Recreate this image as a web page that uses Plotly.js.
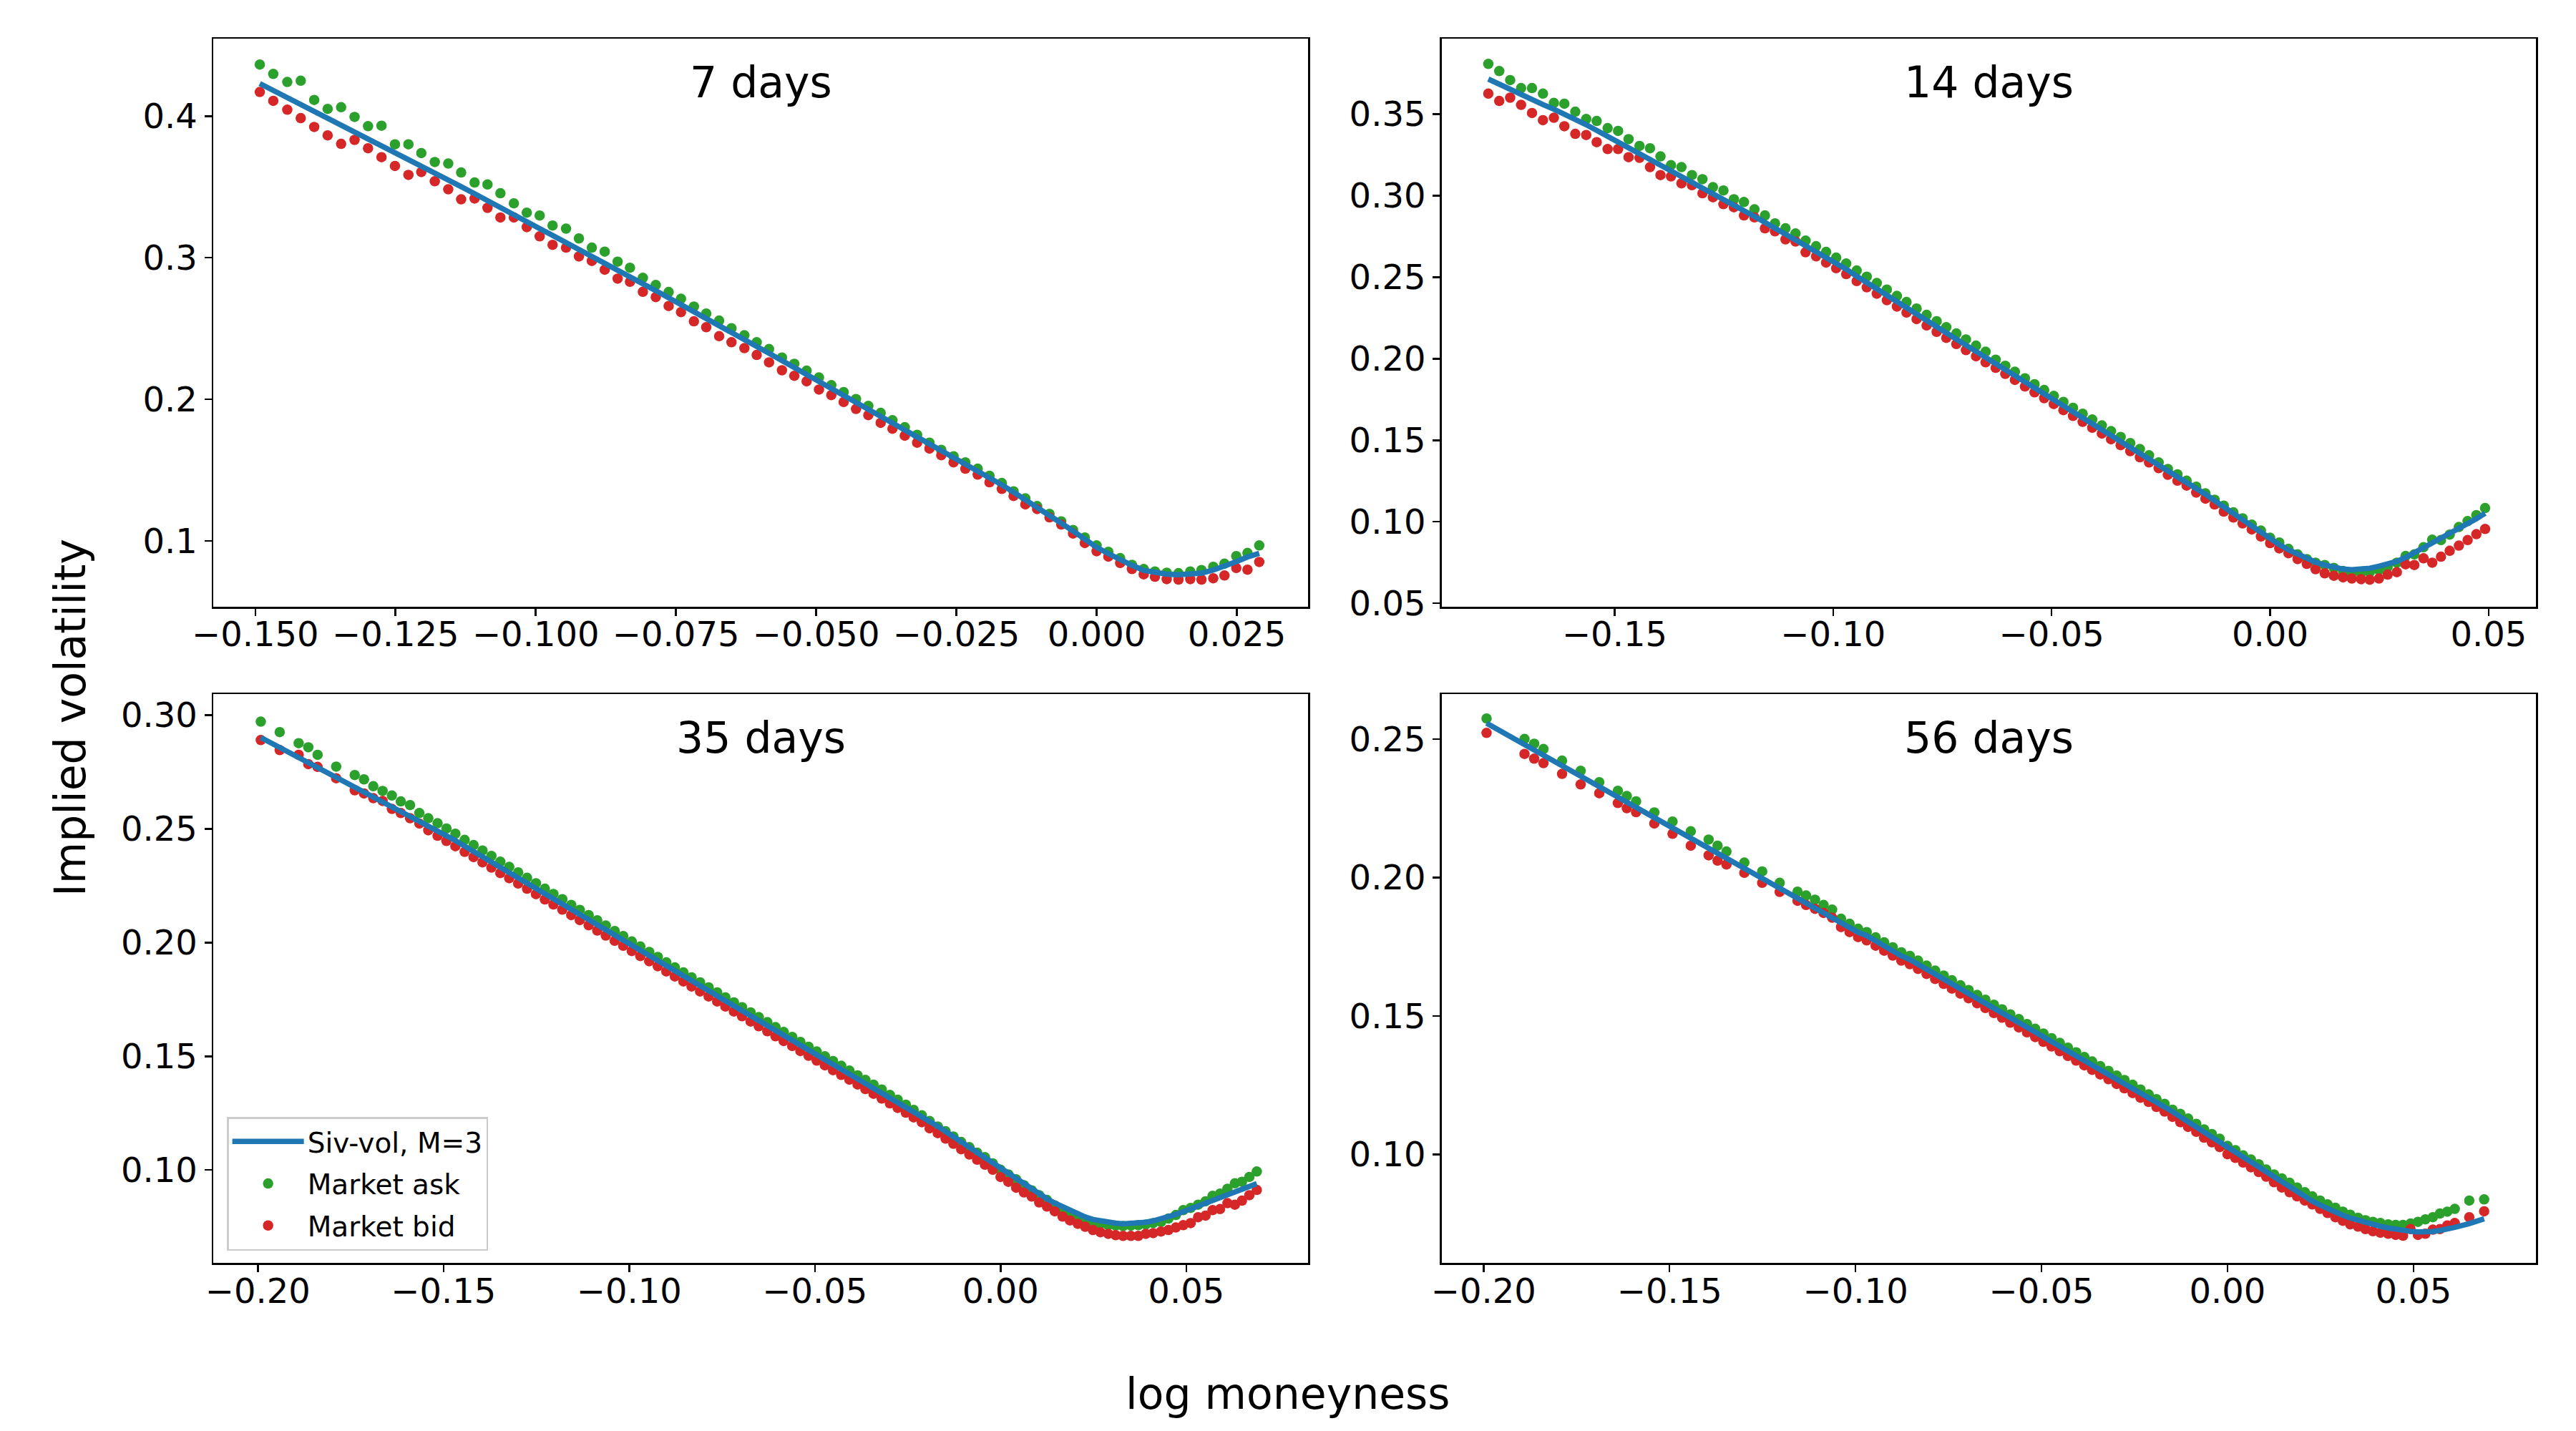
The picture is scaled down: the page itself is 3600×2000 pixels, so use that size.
<!DOCTYPE html>
<html>
<head>
<meta charset="utf-8">
<script src="https://cdn.plot.ly/plotly-3.0.1.min.js"></script>
<style>
  html, body { margin: 0; padding: 0; background: #fff; }
  #chart { width: 3600px; height: 2000px; }
</style>
</head>
<body>
<div id="chart"></div>
<script>
// ---- 7 days ----
const k7 = [-0.1492,-0.1468,-0.1443,-0.1419,-0.1395,-0.1371,-0.1347,-0.1323,-0.1299,-0.1275,-0.1251,-0.1227,-0.1204,-0.1180,-0.1156,-0.1133,-0.1109,-0.1086,-0.1063,-0.1039,-0.1016,-0.0993,-0.0970,-0.0946,-0.0923,-0.0900,-0.0877,-0.0854,-0.0832,-0.0809,-0.0786,-0.0763,-0.0741,-0.0718,-0.0696,-0.0673,-0.0651,-0.0628,-0.0606,-0.0584,-0.0561,-0.0539,-0.0517,-0.0495,-0.0473,-0.0451,-0.0429,-0.0407,-0.0385,-0.0364,-0.0342,-0.0320,-0.0298,-0.0277,-0.0255,-0.0234,-0.0212,-0.0191,-0.0169,-0.0148,-0.0127,-0.0106,-0.0084,-0.0063,-0.0042,-0.0021,0,0.0021,0.0042,0.0063,0.0084,0.0104,0.0125,0.0146,0.0167,0.0187,0.0208,0.0228,0.0249,0.0269,0.0290];
const ask7 = [0.4364,0.4298,0.4241,0.4250,0.4114,0.4051,0.4063,0.3994,0.3929,0.3932,
  0.3801,0.3801,0.3739,0.3676,0.3665,0.3602,0.3531,0.3517,0.3455,0.3384,
  0.3318,0.3298,0.3227,0.3205,0.3136,0.3071,0.3043,0.2972,0.2929,0.2858,
  0.2807,0.2758,0.2710,0.2655,0.2606,0.2556,0.2502,0.2452,0.2403,0.2355,
  0.2295,0.2251,0.2202,0.2154,0.2100,0.2051,0.2002,0.1953,0.1904,0.1852,
  0.1803,0.1749,0.1694,0.1643,0.1598,0.1555,0.1510,0.1460,0.1409,0.1350,
  0.1300,0.1246,0.1191,0.1138,0.1077,0.1024,0.0968,0.0923,0.0878,0.0831,
  0.0801,0.0784,0.0775,0.0772,0.0784,0.0794,0.0817,0.0839,0.0893,0.0915,
  0.0968];
const bid7 = [0.4170,0.4108,0.4045,0.3986,0.3923,0.3864,0.3804,0.3832,0.3773,0.3710,
  0.3648,0.3585,0.3605,0.3540,0.3483,0.3412,0.3418,0.3352,0.3284,0.3284,
  0.3216,0.3151,0.3091,0.3071,0.3009,0.2977,0.2915,0.2852,0.2830,0.2759,
  0.2722,0.2659,0.2616,0.2551,0.2509,0.2446,0.2403,0.2361,0.2313,0.2261,
  0.2205,0.2166,0.2127,0.2069,0.2030,0.1981,0.1932,0.1888,0.1834,0.1792,
  0.1743,0.1694,0.1652,0.1605,0.1555,0.1510,0.1468,0.1414,0.1367,0.1317,
  0.1258,0.1225,0.1166,0.1116,0.1052,0.0985,0.0927,0.0889,0.0844,0.0801,
  0.0764,0.0747,0.0730,0.0727,0.0730,0.0727,0.0736,0.0756,0.0809,0.0797,
  0.0851];
const fit7 = [0.4230,0.4182,0.4132,0.4084,0.4036,0.3988,0.3940,0.3892,0.3844,0.3796,
  0.3747,0.3697,0.3649,0.3599,0.3549,0.3502,0.3452,0.3404,0.3356,0.3306,
  0.3258,0.3210,0.3161,0.3110,0.3061,0.3011,0.2962,0.2913,0.2866,0.2816,
  0.2767,0.2718,0.2670,0.2620,0.2571,0.2521,0.2472,0.2422,0.2373,0.2325,
  0.2274,0.2226,0.2177,0.2129,0.2080,0.2031,0.1982,0.1933,0.1884,0.1837,
  0.1788,0.1739,0.1690,0.1643,0.1594,0.1547,0.1497,0.1450,0.1396,0.1344,
  0.1292,0.1238,0.1180,0.1125,0.1070,0.1013,0.0955,0.0910,0.0867,0.0828,
  0.0792,0.0776,0.0765,0.0761,0.0764,0.0772,0.0794,0.0820,0.0853,0.0886,
  0.0912];

// ---- 14 days ----
const k14 = [-0.1789,-0.1764,-0.1739,-0.1714,-0.1689,-0.1664,-0.1639,-0.1615,-0.1590,-0.1565,-0.1541,-0.1516,-0.1492,-0.1468,-0.1443,-0.1419,-0.1395,-0.1371,-0.1347,-0.1323,-0.1299,-0.1275,-0.1251,-0.1227,-0.1204,-0.1180,-0.1156,-0.1133,-0.1109,-0.1086,-0.1063,-0.1039,-0.1016,-0.0993,-0.0970,-0.0946,-0.0923,-0.0900,-0.0877,-0.0854,-0.0832,-0.0809,-0.0786,-0.0763,-0.0741,-0.0718,-0.0696,-0.0673,-0.0651,-0.0628,-0.0606,-0.0584,-0.0561,-0.0539,-0.0517,-0.0495,-0.0473,-0.0451,-0.0429,-0.0407,-0.0385,-0.0364,-0.0342,-0.0320,-0.0298,-0.0277,-0.0255,-0.0234,-0.0212,-0.0191,-0.0169,-0.0148,-0.0127,-0.0106,-0.0084,-0.0063,-0.0042,-0.0021,0,0.0021,0.0042,0.0063,0.0084,0.0104,0.0125,0.0146,0.0167,0.0187,0.0208,0.0228,0.0249,0.0269,0.0290,0.0310,0.0330,0.0351,0.0371,0.0391,0.0411,0.0432,0.0452,0.0472,0.0492];
const ask14 = [0.3808,0.3764,0.3709,0.3660,0.3660,0.3626,0.3569,0.3564,0.3515,0.3470,0.3458,0.3414,0.3397,0.3347,0.3305,0.3291,0.3241,0.3187,0.3175,0.3126,0.3101,0.3052,0.3032,0.2978,0.2961,0.2916,0.2879,0.2830,0.2800,0.2768,0.2724,0.2690,
  0.2655,0.2620,0.2584,0.2541,0.2503,0.2464,0.2424,0.2385,0.2348,0.2308,0.2269,0.2230,0.2193,0.2155,0.2118,0.2080,0.2043,
  0.1994,0.1957,0.1920,0.1880,0.1844,0.1808,0.1772,0.1735,0.1699,0.1663,0.1627,0.1591,0.1556,0.1520,0.1483,0.1446,0.1408,
  0.1364,0.1324,0.1291,0.1252,0.1215,0.1174,0.1135,0.1099,0.1058,0.1021,0.0982,0.0946,0.0902,0.0873,0.0834,0.0800,0.0771,0.0749,0.0735,0.0717,0.0698,0.0687,0.0684,0.0691,0.0703,0.0723,0.0749,0.0790,0.0800,0.0844,0.0890,0.0888,0.0921,0.0968,0.1004,0.1041,0.1084];
const bid14 = [0.3626,0.3581,0.3601,0.3557,0.3507,0.3463,0.3478,0.3426,0.3379,0.3372,0.3328,0.3286,0.3286,0.3236,0.3232,0.3175,0.3126,0.3118,0.3076,0.3064,0.3015,0.2990,0.2948,0.2929,0.2879,0.2867,0.2800,0.2781,0.2732,0.2719,0.2653,0.2628,
  0.2590,0.2555,0.2519,0.2476,0.2438,0.2399,0.2359,0.2320,0.2283,0.2243,0.2204,0.2165,0.2128,0.2090,0.2053,0.2015,0.1978,
  0.1944,0.1907,0.1870,0.1830,0.1794,0.1758,0.1722,0.1685,0.1649,0.1613,0.1577,0.1541,0.1506,0.1470,0.1433,0.1396,
  0.1364,0.1329,0.1288,0.1252,0.1222,0.1179,0.1142,0.1106,0.1062,0.1026,0.0990,0.0953,0.0910,0.0869,0.0837,0.0807,0.0771,0.0742,0.0709,0.0684,0.0669,0.0659,0.0652,0.0648,0.0645,0.0652,0.0676,0.0691,0.0739,0.0735,0.0776,0.0749,0.0786,0.0822,0.0854,0.0888,0.0924,0.0956];
const fit14 = [0.3715,0.3682,0.3650,0.3617,0.3588,0.3559,0.3530,0.3502,0.3471,0.3435,0.3400,0.3364,0.3330,0.3295,0.3259,0.3224,0.3190,0.3155,0.3121,0.3086,0.3051,0.3017,0.2982,0.2945,0.2910,0.2873,0.2836,0.2801,0.2764,0.2728,0.2693,0.2656,0.2620,0.2585,0.2549,0.2506,0.2468,0.2429,0.2389,0.2350,0.2313,0.2273,0.2234,0.2195,0.2158,0.2120,0.2083,0.2045,0.2008,0.1969,0.1932,0.1895,
  0.1855,0.1819,0.1783,0.1747,0.1710,0.1674,0.1638,0.1602,0.1566,0.1531,0.1495,0.1458,0.1421,0.1386,0.1349,0.1314,0.1277,0.1242,0.1205,0.1169,0.1130,0.1091,0.1050,0.1011,0.0972,0.0933,0.0895,0.0860,0.0828,0.0800,0.0775,0.0752,0.0735,0.0720,0.0710,0.0706,0.0708,0.0715,0.0727,0.0742,0.0757,0.0781,0.0810,0.0842,0.0870,0.0897,0.0924,0.0953,0.0985,0.1018,0.1052];

// ---- 35 days ----
const k35 = [-0.1992,-0.1941,-0.1890,-0.1864,-0.1839,-0.1789,-0.1739,-0.1714,-0.1689,-0.1664,-0.1639,-0.1615,-0.1590,-0.1565,-0.1541,-0.1516,-0.1492,-0.1468,-0.1443,-0.1419,-0.1395,-0.1371,-0.1347,-0.1323,-0.1299,-0.1275,-0.1251,-0.1227,-0.1204,-0.1180,-0.1156,-0.1133,-0.1109,-0.1086,-0.1063,-0.1039,-0.1016,-0.0993,-0.0970,-0.0946,-0.0923,-0.0900,-0.0877,-0.0854,-0.0832,-0.0809,-0.0786,-0.0763,-0.0741,-0.0718,-0.0696,-0.0673,-0.0651,-0.0628,-0.0606,-0.0584,-0.0561,-0.0539,-0.0517,-0.0495,-0.0473,-0.0451,-0.0429,-0.0407,-0.0385,-0.0364,-0.0342,-0.0320,-0.0298,-0.0277,-0.0255,-0.0234,-0.0212,-0.0191,-0.0169,-0.0148,-0.0127,-0.0106,-0.0084,-0.0063,-0.0042,-0.0021,0,0.0021,0.0042,0.0063,0.0084,0.0104,0.0125,0.0146,0.0167,0.0187,0.0208,0.0228,0.0249,0.0269,0.0290,0.0310,0.0330,0.0351,0.0371,0.0391,0.0411,0.0432,0.0452,0.0472,0.0492,0.0512,0.0532,0.0552,0.0571,0.0591,0.0611,0.0631,0.0650,0.0670,0.0690];
const ask35 = [0.2972,0.2926,0.2877,0.2859,0.2826,0.2774,0.2737,0.2718,0.2688,0.2667,0.2647,0.2621,0.2605,0.2570,0.2547,
  0.2525,0.2502,0.2479,0.2452,0.2429,0.2405,0.2381,0.2356,0.2333,0.2309,0.2285,0.2261,0.2237,0.2214,0.2191,0.2166,0.2144,0.2121,0.2098,0.2075,0.2051,0.2029,0.2005,0.1983,0.1959,0.1937,0.1913,0.1891,0.1869,0.1847,0.1825,0.1803,0.1781,0.1759,0.1737,0.1716,0.1693,0.1672,0.1650,0.1628,0.1607,0.1585,0.1563,0.1542,0.1521,0.1500,0.1479,0.1458,0.1437,0.1416,0.1396,0.1375,0.1354,
  0.1330,0.1309,0.1287,0.1264,0.1240,
  0.1215,0.1191,0.1170,0.1147,0.1123,0.1100,0.1076,0.1056,0.1029,0.1001,0.0980,0.0959,0.0933,0.0910,0.0889,0.0868,0.0844,0.0826,0.0810,0.0795,0.0781,0.0771,0.0763,0.0757,0.0755,0.0753,0.0755,0.0757,0.0760,0.0766,0.0771,0.0786,0.0802,0.0823,0.0833,0.0847,0.0862,0.0886,0.0896,0.0917,0.0941,0.0948,0.0969,0.0993];
const bid35 = [0.2891,0.2847,0.2826,0.2785,0.2773,0.2723,0.2670,0.2656,0.2635,0.2623,0.2588,0.2570,0.2547,0.2524,0.2494,
  0.2470,0.2447,0.2424,0.2399,0.2376,0.2353,0.2330,0.2306,0.2283,0.2260,0.2237,0.2213,0.2190,0.2168,0.2145,0.2121,0.2099,0.2076,0.2053,0.2031,0.2008,0.1986,0.1963,0.1941,0.1918,0.1896,0.1873,0.1851,0.1829,0.1807,0.1785,0.1763,0.1741,0.1719,0.1697,0.1676,0.1653,0.1632,0.1610,0.1588,0.1567,0.1545,0.1523,0.1502,0.1481,0.1460,0.1439,0.1418,0.1397,0.1376,0.1356,0.1335,0.1314,0.1293,0.1273,0.1252,0.1231,0.1210,
  0.1183,0.1162,0.1138,0.1115,0.1091,0.1068,0.1045,0.1023,0.1001,0.0969,0.0948,0.0922,0.0901,0.0883,0.0857,0.0839,0.0818,0.0795,0.0778,0.0763,0.0750,0.0736,0.0726,0.0719,0.0713,0.0710,0.0710,0.0710,0.0719,0.0722,0.0729,0.0736,0.0747,0.0757,0.0766,0.0792,0.0799,0.0823,0.0828,0.0854,0.0847,0.0865,0.0889,0.0912];
const fit35 = [0.2902,0.2858,0.2815,0.2793,0.2771,0.2729,0.2686,0.2665,0.2644,0.2622,0.2601,0.2580,0.2559,0.2538,0.2517,
  0.2495,0.2472,0.2449,0.2424,0.2401,0.2378,0.2355,0.2331,0.2308,0.2285,0.2262,0.2238,0.2215,0.2193,0.2170,0.2146,0.2124,0.2101,0.2078,0.2056,0.2033,0.2011,0.1988,0.1966,0.1943,0.1921,0.1898,0.1876,0.1854,0.1832,0.1810,0.1788,0.1766,0.1744,0.1722,0.1701,0.1678,0.1657,0.1635,0.1613,0.1592,0.1570,0.1548,0.1527,0.1506,0.1485,0.1464,0.1443,0.1422,0.1401,0.1381,0.1360,0.1339,0.1318,0.1298,0.1277,0.1256,0.1235,
  0.1215,0.1192,0.1169,0.1146,0.1124,0.1100,0.1077,0.1054,0.1031,0.1006,0.0983,0.0960,0.0937,0.0914,0.0893,0.0873,0.0854,0.0837,0.0821,0.0806,0.0793,0.0782,0.0775,0.0769,0.0766,0.0763,0.0764,0.0766,0.0770,0.0776,0.0784,0.0793,0.0804,0.0816,0.0828,0.0840,0.0853,0.0866,0.0879,0.0892,0.0904,0.0916,0.0928,0.0940];

// ---- 56 days ----
const k56 = [-0.1992,-0.1890,-0.1864,-0.1839,-0.1789,-0.1739,-0.1689,-0.1639,-0.1615,-0.1590,-0.1541,-0.1492,-0.1443,-0.1395,-0.1371,-0.1347,-0.1299,-0.1251,-0.1204,-0.1156,-0.1133,-0.1109,-0.1086,-0.1063,
  -0.1039,-0.1016,-0.0993,-0.0970,-0.0946,-0.0923,-0.0900,-0.0877,-0.0854,-0.0832,-0.0809,-0.0786,-0.0763,-0.0741,-0.0718,-0.0696,-0.0673,-0.0651,-0.0628,-0.0606,-0.0584,-0.0561,-0.0539,-0.0517,-0.0495,-0.0473,-0.0451,-0.0429,-0.0407,-0.0385,-0.0364,-0.0342,-0.0320,-0.0298,-0.0277,-0.0255,-0.0234,-0.0212,-0.0191,-0.0169,-0.0148,-0.0127,-0.0106,-0.0084,-0.0063,-0.0042,-0.0021,0,0.0021,0.0042,0.0063,0.0084,0.0104,0.0125,0.0146,0.0167,0.0187,0.0208,0.0228,0.0249,0.0269,0.0290,0.0310,0.0330,0.0351,0.0371,0.0391,0.0411,0.0432,0.0452,0.0472,0.0492,0.0512,0.0532,0.0552,0.0571,0.0591,0.0611,0.0650,0.0690];
const ask56 = [0.2574,0.2500,0.2483,0.2464,0.2422,0.2385,0.2344,0.2313,0.2294,0.2275,0.2235,0.2202,0.2167,0.2137,0.2115,0.2094,0.2054,0.2022,0.1981,0.1949,0.1935,0.1920,0.1901,0.1884,
  0.1851,0.1833,0.1815,0.1803,0.1784,0.1766,0.1748,0.1730,0.1717,0.1700,0.1682,0.1664,0.1646,0.1629,0.1611,0.1594,0.1576,0.1559,0.1541,0.1524,0.1506,0.1489,0.1471,0.1454,0.1437,0.1420,0.1403,0.1386,0.1369,0.1352,0.1336,0.1319,0.1302,0.1285,0.1269,0.1252,0.1235,
  0.1217,0.1200,0.1183,0.1162,0.1147,0.1130,0.1111,0.1091,0.1074,0.1057,0.1031,0.1016,0.0997,0.0982,0.0965,0.0946,0.0928,0.0914,0.0898,0.0881,0.0864,0.0849,0.0834,0.0820,0.0808,0.0794,0.0783,0.0772,0.0763,0.0757,0.0753,0.0748,0.0746,0.0746,0.0751,0.0757,0.0766,0.0774,0.0787,0.0794,0.0804,0.0834,0.0838];
const bid56 = [0.2522,0.2446,0.2429,0.2413,0.2374,0.2336,0.2304,0.2269,0.2250,0.2236,0.2195,0.2158,0.2115,0.2080,0.2061,0.2047,0.2017,0.1981,0.1948,0.1916,0.1901,0.1887,0.1872,0.1855,
  0.1821,0.1803,0.1785,0.1773,0.1754,0.1736,0.1718,0.1700,0.1687,0.1670,0.1652,0.1634,0.1616,0.1599,0.1581,0.1564,0.1546,0.1529,0.1511,0.1494,0.1476,0.1459,0.1441,0.1424,0.1407,0.1390,0.1373,0.1356,0.1339,0.1322,0.1306,0.1289,0.1272,0.1255,0.1239,0.1222,0.1205,
  0.1190,0.1172,0.1155,0.1136,0.1117,0.1100,0.1082,0.1061,0.1044,0.1027,0.1001,0.0988,0.0971,0.0954,0.0937,0.0920,0.0900,0.0881,0.0864,0.0849,0.0834,0.0820,0.0804,0.0789,0.0774,0.0761,0.0748,0.0740,0.0731,0.0723,0.0718,0.0714,0.0710,0.0707,0.0731,0.0710,0.0714,0.0729,0.0731,0.0744,0.0753,0.0774,0.0795];
const fit56 = [0.2557,0.2480,0.2460,0.2442,0.2404,0.2366,0.2329,0.2291,0.2273,0.2254,0.2217,0.2180,0.2143,0.2107,0.2089,0.2071,0.2035,0.1999,0.1962,0.1924,0.1912,0.1893,0.1875,0.1857,
  0.1838,0.1820,0.1802,0.1790,0.1771,0.1753,0.1735,0.1717,0.1704,0.1687,0.1669,0.1651,0.1633,0.1616,0.1598,0.1581,0.1563,0.1546,0.1528,0.1511,0.1493,0.1476,0.1458,0.1441,0.1424,0.1407,0.1390,0.1373,0.1356,0.1339,0.1323,0.1306,0.1289,0.1272,0.1256,0.1239,0.1222,
  0.1210,0.1192,0.1173,0.1155,0.1136,0.1118,0.1099,0.1081,0.1063,0.1045,0.1027,0.1008,0.0989,0.0970,0.0952,0.0934,0.0916,0.0898,0.0880,0.0863,0.0846,0.0832,0.0818,0.0805,0.0793,0.0781,0.0771,0.0762,0.0754,0.0747,0.0741,0.0735,0.0730,0.0726,0.0723,0.0721,0.0720,0.0722,0.0726,0.0731,0.0737,0.0751,0.0768];

// ---- tick labels ----
const xTicks7 = [-0.15, -0.125, -0.1, -0.075, -0.05, -0.025, 0, 0.025];
const xTickText7 = ['\u22120.150', '\u22120.125', '\u22120.100', '\u22120.075', '\u22120.050', '\u22120.025', '0.000', '0.025'];
const yTicks7 = [0.1, 0.2, 0.3, 0.4];
const yTickText7 = ['0.1', '0.2', '0.3', '0.4'];
const xTicks14 = [-0.15, -0.1, -0.05, 0, 0.05];
const xTickText14 = ['\u22120.15', '\u22120.10', '\u22120.05', '0.00', '0.05'];
const yTicks14 = [0.05, 0.1, 0.15, 0.2, 0.25, 0.3, 0.35];
const yTickText14 = ['0.05', '0.10', '0.15', '0.20', '0.25', '0.30', '0.35'];
const xTicksLong = [-0.2, -0.15, -0.1, -0.05, 0, 0.05];
const xTickTextLong = ['\u22120.20', '\u22120.15', '\u22120.10', '\u22120.05', '0.00', '0.05'];
const yTicks35 = [0.1, 0.15, 0.2, 0.25, 0.3];
const yTickText35 = ['0.10', '0.15', '0.20', '0.25', '0.30'];
const yTicks56 = [0.1, 0.15, 0.2, 0.25];
const yTickText56 = ['0.10', '0.15', '0.20', '0.25'];

const FONT = 'DejaVu Sans';
const GREEN = '#2ca02c', RED = '#d62728', BLUE = '#1f77b4';

const panels = [
  { k: k7, ask: ask7, bid: bid7, fit: fit7, title: '7 days',
    xr: [-0.1575, 0.0377], yr: [0.0534, 0.4547],
    xt: xTicks7, xtt: xTickText7, yt: yTicks7, ytt: yTickText7 },
  { k: k14, ask: ask14, bid: bid14, fit: fit14, title: '14 days',
    xr: [-0.1896, 0.0609], yr: [0.0478, 0.3963],
    xt: xTicks14, xtt: xTickText14, yt: yTicks14, ytt: yTickText14 },
  { k: k35, ask: ask35, bid: bid35, fit: fit35, title: '35 days',
    xr: [-0.2120, 0.0828], yr: [0.0590, 0.3093],
    xt: xTicksLong, xtt: xTickTextLong, yt: yTicks35, ytt: yTickText35, legend: true },
  { k: k56, ask: ask56, bid: bid56, fit: fit56, title: '56 days',
    xr: [-0.2113, 0.0830], yr: [0.0608, 0.2662],
    xt: xTicksLong, xtt: xTickTextLong, yt: yTicks56, ytt: yTickText56 }
];

const xDomains = [[0.08278, 0.50778], [0.55961, 0.98456], [0.08278, 0.50778], [0.55961, 0.98456]];
const yDomains = [[0.5759, 0.973], [0.5759, 0.973], [0.1173, 0.51495], [0.1173, 0.51495]];
const titleY = [0.9425, 0.9425, 0.4845, 0.4845];

const traces = [];
const layout = {
  width: 3600, height: 2000,
  margin: { l: 0, r: 0, t: 0, b: 0 },
  paper_bgcolor: '#fff', plot_bgcolor: '#fff',
  font: { family: FONT, color: '#000' },
  showlegend: true,
  legend: {
    x: 0.0881, y: 0.2195, xanchor: 'left', yanchor: 'top',
    bgcolor: 'rgba(255,255,255,0.8)', bordercolor: '#cccccc', borderwidth: 2.5,
    font: { family: FONT, size: 39, color: '#000' },
    itemwidth: 100, traceorder: 'grouped', tracegroupgap: 5
  },
  annotations: []
};

panels.forEach((p, i) => {
  const n = i === 0 ? '' : String(i + 1);
  const xa = 'x' + n, ya = 'y' + n;
  traces.push({
    x: p.k, y: p.ask, xaxis: xa, yaxis: ya, type: 'scatter', mode: 'markers',
    name: 'Market ask', legendgroup: 'ask', legendrank: 2, showlegend: !!p.legend,
    marker: { color: GREEN, size: 14.5 }, hoverinfo: 'skip'
  });
  traces.push({
    x: p.k, y: p.bid, xaxis: xa, yaxis: ya, type: 'scatter', mode: 'markers',
    name: 'Market bid', legendgroup: 'bid', legendrank: 3, showlegend: !!p.legend,
    marker: { color: RED, size: 14.5 }, hoverinfo: 'skip'
  });
  traces.push({
    x: p.k, y: p.fit, xaxis: xa, yaxis: ya, type: 'scatter', mode: 'lines',
    name: 'Siv-vol, M=3', legendgroup: 'fit', legendrank: 1, showlegend: !!p.legend,
    line: { color: BLUE, width: 7.5 }, hoverinfo: 'skip'
  });

  const axisBase = {
    showline: true, mirror: true, linecolor: '#000', linewidth: 2.5,
    ticks: 'outside', ticklen: 10, tickwidth: 2.5, tickcolor: '#000',
    showgrid: false, zeroline: false, fixedrange: true,
    tickfont: { family: FONT, size: 48, color: '#000' }
  };
  layout['xaxis' + n] = Object.assign({}, axisBase, {
    domain: xDomains[i], anchor: ya, range: p.xr,
    tickmode: 'array', tickvals: p.xt, ticktext: p.xtt,
    ticklabelstandoff: -15
  });
  layout['yaxis' + n] = Object.assign({}, axisBase, {
    domain: yDomains[i], anchor: xa, range: p.yr,
    tickmode: 'array', tickvals: p.yt, ticktext: p.ytt
  });
  layout.annotations.push({
    xref: 'paper', yref: 'paper',
    x: (xDomains[i][0] + xDomains[i][1]) / 2, y: titleY[i],
    xanchor: 'center', yanchor: 'middle', showarrow: false,
    text: p.title, font: { family: FONT, size: 60, color: '#000' }
  });
});

layout.annotations.push({
  xref: 'paper', yref: 'paper', x: 0.5, y: 0.026,
  xanchor: 'center', yanchor: 'middle', showarrow: false,
  text: 'log moneyness', font: { family: FONT, size: 60, color: '#000' }
});
layout.annotations.push({
  xref: 'paper', yref: 'paper', x: 0.0272, y: 0.4985,
  xanchor: 'center', yanchor: 'middle', showarrow: false, textangle: -90,
  text: 'Implied volatility', font: { family: FONT, size: 60, color: '#000' }
});

Plotly.newPlot('chart', traces, layout, { displayModeBar: false, staticPlot: true });
</script>
</body>
</html>
